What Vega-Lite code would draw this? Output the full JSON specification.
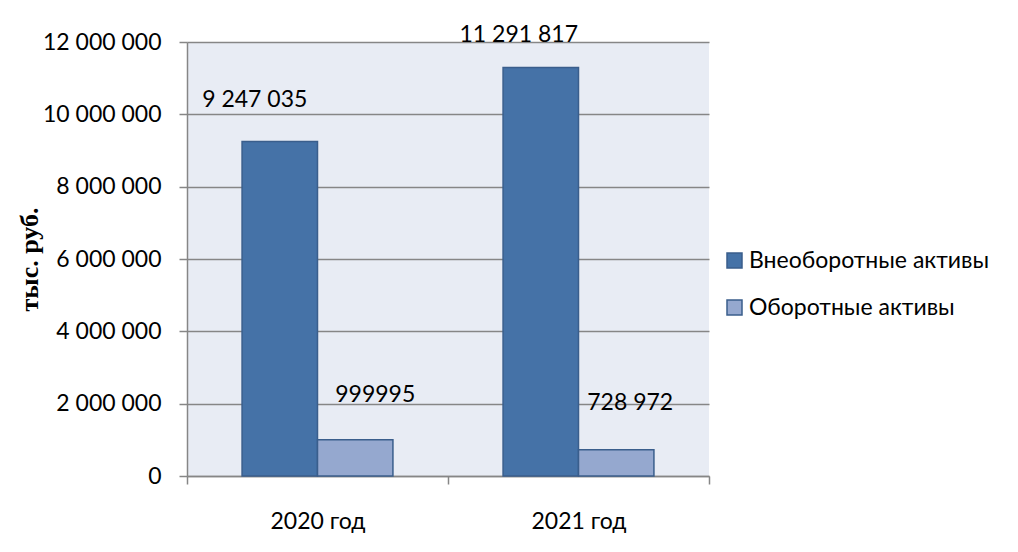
{
  "$schema": "https://vega.github.io/schema/vega-lite/v6.json",
  "autosize": "none",
  "width": 522,
  "height": 434,
  "padding": {"left": 187, "top": 42, "right": 309, "bottom": 76},
  "background": "white",
  "config": {
    "locale": {"number": {"decimal": ",", "thousands": " ", "grouping": [3], "currency": ["", ""]}},
    "view": {"fill": "#E8ECF4", "stroke": null},
    "font": "Lato",
    "axis": {
      "labelFont": "Lato",
      "labelFontSize": 23,
      "labelColor": "#000000",
      "domainColor": "#868686",
      "domainWidth": 1.5,
      "tickColor": "#868686",
      "tickWidth": 1.5,
      "tickSize": 8,
      "gridColor": "#868686",
      "gridWidth": 1.3
    }
  },
  "datasets": {
    "assets": [
      {"year": "2020 год", "series": "Внеоборотные активы", "value": 9247035},
      {"year": "2020 год", "series": "Оборотные активы", "value": 999995},
      {"year": "2021 год", "series": "Внеоборотные активы", "value": 11291817},
      {"year": "2021 год", "series": "Оборотные активы", "value": 728972}
    ]
  },
  "data": {"name": "assets"},
  "encoding": {
    "x": {
      "field": "year",
      "type": "nominal",
      "scale": {"paddingInner": 0, "paddingOuter": 0},
      "axis": {"title": null, "labelAngle": 0, "tickBand": "extent", "grid": false, "labelPadding": 26, "tickSize": 8}
    },
    "xOffset": {
      "field": "series",
      "type": "nominal",
      "scale": {"domain": ["Внеоборотные активы", "Оборотные активы"], "paddingInner": 0, "paddingOuter": 0.73}
    },
    "y": {
      "field": "value",
      "type": "quantitative",
      "scale": {"domain": [0, 12000000], "nice": false},
      "axis": {
        "title": "тыс. руб.",
        "titleFont": "Liberation Serif",
        "titleFontWeight": "bold",
        "titleFontSize": 26,
        "titleColor": "#000000",
        "titlePadding": 0,
        "values": [0, 2000000, 4000000, 6000000, 8000000, 10000000, 12000000],
        "format": ",d",
        "labelPadding": 18,
        "grid": true
      }
    }
  },
  "layer": [
    {
      "mark": {"type": "bar", "stroke": "#3A5E8C", "strokeWidth": 1.5},
      "encoding": {
        "color": {
          "field": "series",
          "type": "nominal",
          "scale": {"domain": ["Внеоборотные активы", "Оборотные активы"], "range": ["#4572A7", "#95A8CF"]},
          "legend": {
            "title": null,
            "orient": "none",
            "legendX": 536,
            "legendY": 207,
            "symbolType": "square",
            "symbolSize": 225,
            "symbolStrokeColor": "#3A5E8C",
            "symbolStrokeWidth": 1.5,
            "labelFont": "Lato",
            "labelFontSize": 23,
            "labelColor": "#000000",
            "labelOffset": 3,
            "rowPadding": 23,
            "labelLimit": 400
          }
        }
      }
    },
    {
      "transform": [{"filter": "datum.year == '2020 год' && datum.series == 'Внеоборотные активы'"}],
      "mark": {"type": "text", "fontSize": 23, "color": "#000000", "baseline": "middle", "dx": -25, "dy": -42},
      "encoding": {"text": {"field": "value", "type": "quantitative", "format": ",d"}}
    },
    {
      "transform": [{"filter": "datum.year == '2021 год' && datum.series == 'Внеоборотные активы'"}],
      "mark": {"type": "text", "fontSize": 23, "color": "#000000", "baseline": "middle", "dx": -22, "dy": -33},
      "encoding": {"text": {"field": "value", "type": "quantitative", "format": ",d"}}
    },
    {
      "transform": [{"filter": "datum.year == '2020 год' && datum.series == 'Оборотные активы'"}],
      "mark": {"type": "text", "fontSize": 23, "color": "#000000", "baseline": "middle", "dx": 20, "dy": -45},
      "encoding": {"text": {"field": "value", "type": "quantitative", "format": "d"}}
    },
    {
      "transform": [{"filter": "datum.year == '2021 год' && datum.series == 'Оборотные активы'"}],
      "mark": {"type": "text", "fontSize": 23, "color": "#000000", "baseline": "middle", "dx": 14, "dy": -47},
      "encoding": {"text": {"field": "value", "type": "quantitative", "format": ",d"}}
    }
  ]
}
